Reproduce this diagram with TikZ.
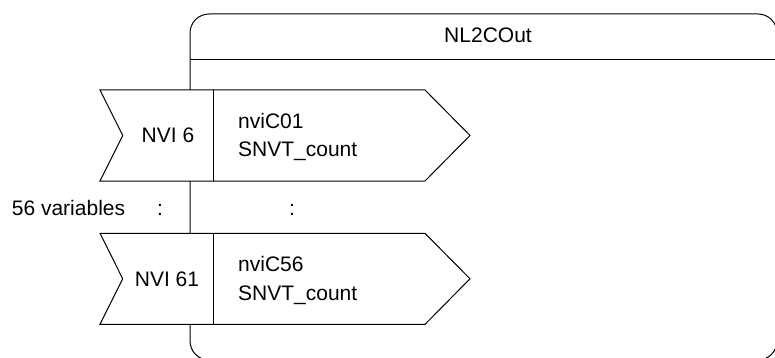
\documentclass[tikz,border=0pt]{standalone}
\usepackage{fontspec}
\setmainfont{Liberation Sans}
\begin{document}
\begin{tikzpicture}[x=1pt,y=-1pt,
  outline/.style={draw=black,line width=1pt,line join=miter},
  portshape/.style={outline,fill=white},
  lbl/.style={inner sep=0pt,font=\fontsize{21}{25}\selectfont}]
\clip (0,0) rectangle (775,358);
% block frame
\draw[outline,rounded corners=19pt] (190,14) rectangle (777,360);
\coordinate (hl) at (190,60);
\coordinate (hr) at (777,60);
\draw[outline] (hl) -- (hr);
\node[lbl,anchor=base] (title) at (488,42.3) {NL2COut};
% port 1
\draw[portshape] (100,90) -- (425,90) -- (470,135.5) -- (425,181) -- (100,181) -- (122.7,135.5) -- cycle;
\coordinate (d1t) at (213,90);
\coordinate (d1b) at (213,181);
\draw[outline] (d1t) -- (d1b);
\node[lbl,anchor=base] (nvi6) at (168,142.7) {NVI 6};
\node[lbl,anchor=base west] (n1a) at (238,128.3) {nviC01};
\node[lbl,anchor=base west] (n1b) at (238,156.7) {SNVT\_count};
% port 2
\draw[portshape] (100,233.3) -- (425,233.3) -- (470,278.8) -- (425,324.3) -- (100,324.3) -- (122.7,278.8) -- cycle;
\coordinate (d2t) at (213,233.3);
\coordinate (d2b) at (213,324.3);
\draw[outline] (d2t) -- (d2b);
\node[lbl,anchor=base] (nvi61) at (167,286.2) {NVI 61};
\node[lbl,anchor=base west] (n2a) at (238,271.6) {nviC56};
\node[lbl,anchor=base west] (n2b) at (238,300) {SNVT\_count};
% ellipsis row
\node[lbl,anchor=base west] (vars) at (11.7,215) {56 variables};
\node[lbl,anchor=base] (c1) at (160,215) {:};
\node[lbl,anchor=base] (c2) at (292,215) {:};
\end{tikzpicture}
\end{document}
